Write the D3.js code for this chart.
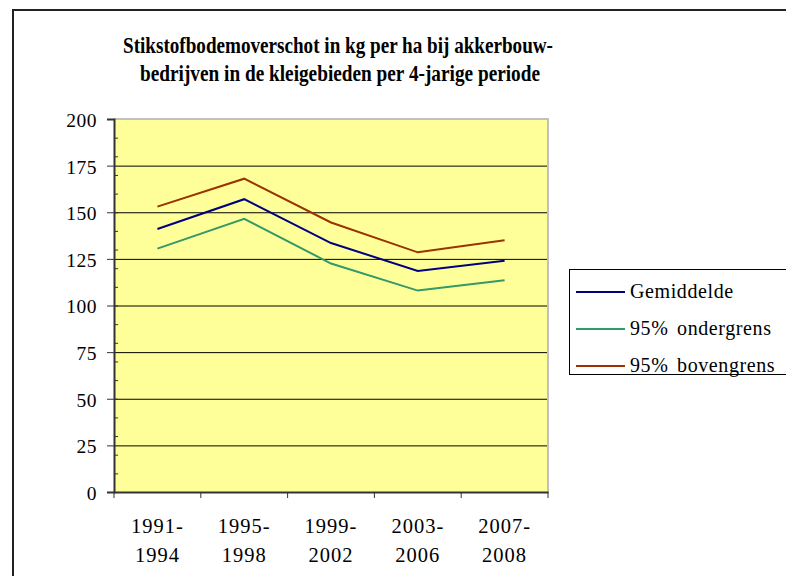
<!DOCTYPE html>
<html lang="nl">
<meta charset="utf-8">
<style>
    html, body {
        margin: 0;
        padding: 0;
        background: #fff;
    }
</style>
<body>
<svg id="svg" width="786" height="576"></svg>
<script src="https://cdn.jsdelivr.net/npm/d3@7"></script>
<script>
    // data
    var periods = [["1991-", "1994"], ["1995-", "1998"], ["1999-", "2002"], ["2003-", "2006"], ["2007-", "2008"]];
    var gemiddelde = [141, 157, 133.5, 118.5, 124];
    var ondergrens = [130.5, 146.5, 122.5, 108, 113.5];
    var bovengrens = [153, 168, 144.5, 128.5, 135];
    var yTicks = [0, 25, 50, 75, 100, 125, 150, 175, 200];
    var titleLines = ["Stikstofbodemoverschot in kg per ha bij akkerbouw-",
                      "bedrijven in de kleigebieden per 4-jarige periode"];

    var series = [
        {name: "Gemiddelde", values: gemiddelde, color: "#000080"},
        {name: "95% ondergrens", values: ondergrens, color: "#339966"},
        {name: "95% bovengrens", values: bovengrens, color: "#993300"}
    ];

    var FONT = "'Liberation Serif', 'Times New Roman', serif";

    var svg = d3.select("svg"),
        margin = {top: 119, right: 238, bottom: 84, left: 114},
        width = +svg.attr("width") - margin.left - margin.right,
        height = +svg.attr("height") - margin.top - margin.bottom;

    // outer chart frame (only left and top visible)
    svg.append("path")
        .attr("d", "M13,576 V10 H786")
        .attr("fill", "none")
        .attr("stroke", "#222")
        .attr("stroke-width", 2);

    // title
    svg.append("g").selectAll("text").data(titleLines).enter().append("text")
        .attr("x", (d, i) => i == 0 ? 123 : 140)
        .attr("y", (d, i) => 53 + i * 28)
        .attr("textLength", (d, i) => i == 0 ? 430 : 400)
        .attr("lengthAdjust", "spacingAndGlyphs")
        .style("font-family", FONT)
        .style("font-size", "24px")
        .style("font-weight", "bold")
        .text(d => d);

    var g = svg.append("g").attr("transform", "translate(" + margin.left + "," + margin.top + ")");

    var x = d3.scaleBand()
        .domain(periods.map((d, i) => i))
        .range([0, width]);

    var y = d3.scaleLinear()
        .domain([0, 200])
        .range([height, 0]);

    // plot area
    g.append("rect")
        .attr("width", width)
        .attr("height", height)
        .attr("fill", "#ffff99");

    // gridlines
    g.append("g")
        .selectAll("line").data(yTicks.filter(d => d > 0 && d < 200)).enter().append("line")
            .attr("x1", 0)
            .attr("x2", width)
            .attr("y1", d => y(d) + 0.5)
            .attr("y2", d => y(d) + 0.5)
            .attr("stroke", "#000")
            .attr("stroke-width", 1);

    // grey border top + right
    g.append("path")
        .attr("d", "M0,0 H" + width + " V" + height)
        .attr("fill", "none")
        .attr("stroke", "#c0c0c0")
        .attr("stroke-width", 2);

    // minor ticks on y axis (every 10)
    g.append("g")
        .selectAll("line").data(d3.range(10, 200, 10)).enter().append("line")
            .attr("x1", 0)
            .attr("x2", 4)
            .attr("y1", d => y(d) + 0.5)
            .attr("y2", d => y(d) + 0.5)
            .attr("stroke", "#333");

    // y axis
    var yAxis = d3.axisLeft(y)
        .tickValues(yTicks)
        .tickSize(7)
        .tickPadding(10);

    g.append("g")
        .call(yAxis)
        .attr("font-family", null)
        .attr("font-size", null)
        .call(g => g.select(".domain").attr("stroke", "#333").attr("stroke-width", 2))
        .call(g => g.selectAll(".tick line").attr("stroke", "#333"))
        .call(g => g.selectAll(".tick text")
            .attr("fill", "#000")
            .attr("dy", "0.38em")
            .style("font-family", FONT)
            .style("font-size", "19.5px")
            .style("letter-spacing", "0.5px"));

    // x axis
    var xAxis = d3.axisBottom(x)
        .tickValues([])
        .tickSize(0);

    var xg = g.append("g")
        .attr("transform", "translate(0," + height + ")")
        .call(xAxis)
        .call(g => g.select(".domain").attr("stroke", "#333").attr("stroke-width", 2));

    // x tick marks at band boundaries
    xg.selectAll(".xtick").data(d3.range(periods.length + 1)).enter().append("line")
        .attr("class", "xtick")
        .attr("x1", d => d < periods.length ? x(d) : width)
        .attr("x2", d => d < periods.length ? x(d) : width)
        .attr("y1", 0)
        .attr("y2", 6)
        .attr("stroke", "#333");

    // x labels (two lines)
    var xl = xg.selectAll(".xlabel").data(periods).enter().append("text")
        .attr("class", "xlabel")
        .attr("text-anchor", "middle")
        .attr("fill", "#000")
        .style("font-family", FONT)
        .style("font-size", "20.5px")
        .style("letter-spacing", "1px")
        .attr("transform", (d, i) => "translate(" + (x(i) + x.bandwidth() / 2) + ",0)");
    xl.append("tspan").attr("x", 0).attr("y", 41).text(d => d[0]);
    xl.append("tspan").attr("x", 0).attr("y", 70).text(d => d[1]);

    // lines
    var line = d3.line()
        .x((d, i) => x(i) + x.bandwidth() / 2)
        .y(d => y(d));

    g.append("g")
        .selectAll("path").data(series).enter().append("path")
            .attr("d", d => line(d.values))
            .attr("fill", "none")
            .attr("stroke", d => d.color)
            .attr("stroke-width", 2);

    // legend
    var legend = svg.append("g").attr("transform", "translate(569,269)");
    legend.append("rect")
        .attr("x", 0.5)
        .attr("y", 0.5)
        .attr("width", 240)
        .attr("height", 105)
        .attr("fill", "#fff")
        .attr("stroke", "#000");

    var items = legend.selectAll(".item").data(series).enter().append("g")
        .attr("class", "item")
        .attr("transform", (d, i) => "translate(0," + (23 + i * 37) + ")");
    items.append("line")
        .attr("x1", 7)
        .attr("x2", 56)
        .attr("stroke", d => d.color)
        .attr("stroke-width", 2);
    items.append("text")
        .attr("x", 61)
        .attr("y", 6)
        .attr("fill", "#000")
        .style("font-family", FONT)
        .style("font-size", "20px")
        .style("letter-spacing", "0.6px")
        .style("word-spacing", "3px")
        .text(d => d.name);
</script>
</body>
</html>
